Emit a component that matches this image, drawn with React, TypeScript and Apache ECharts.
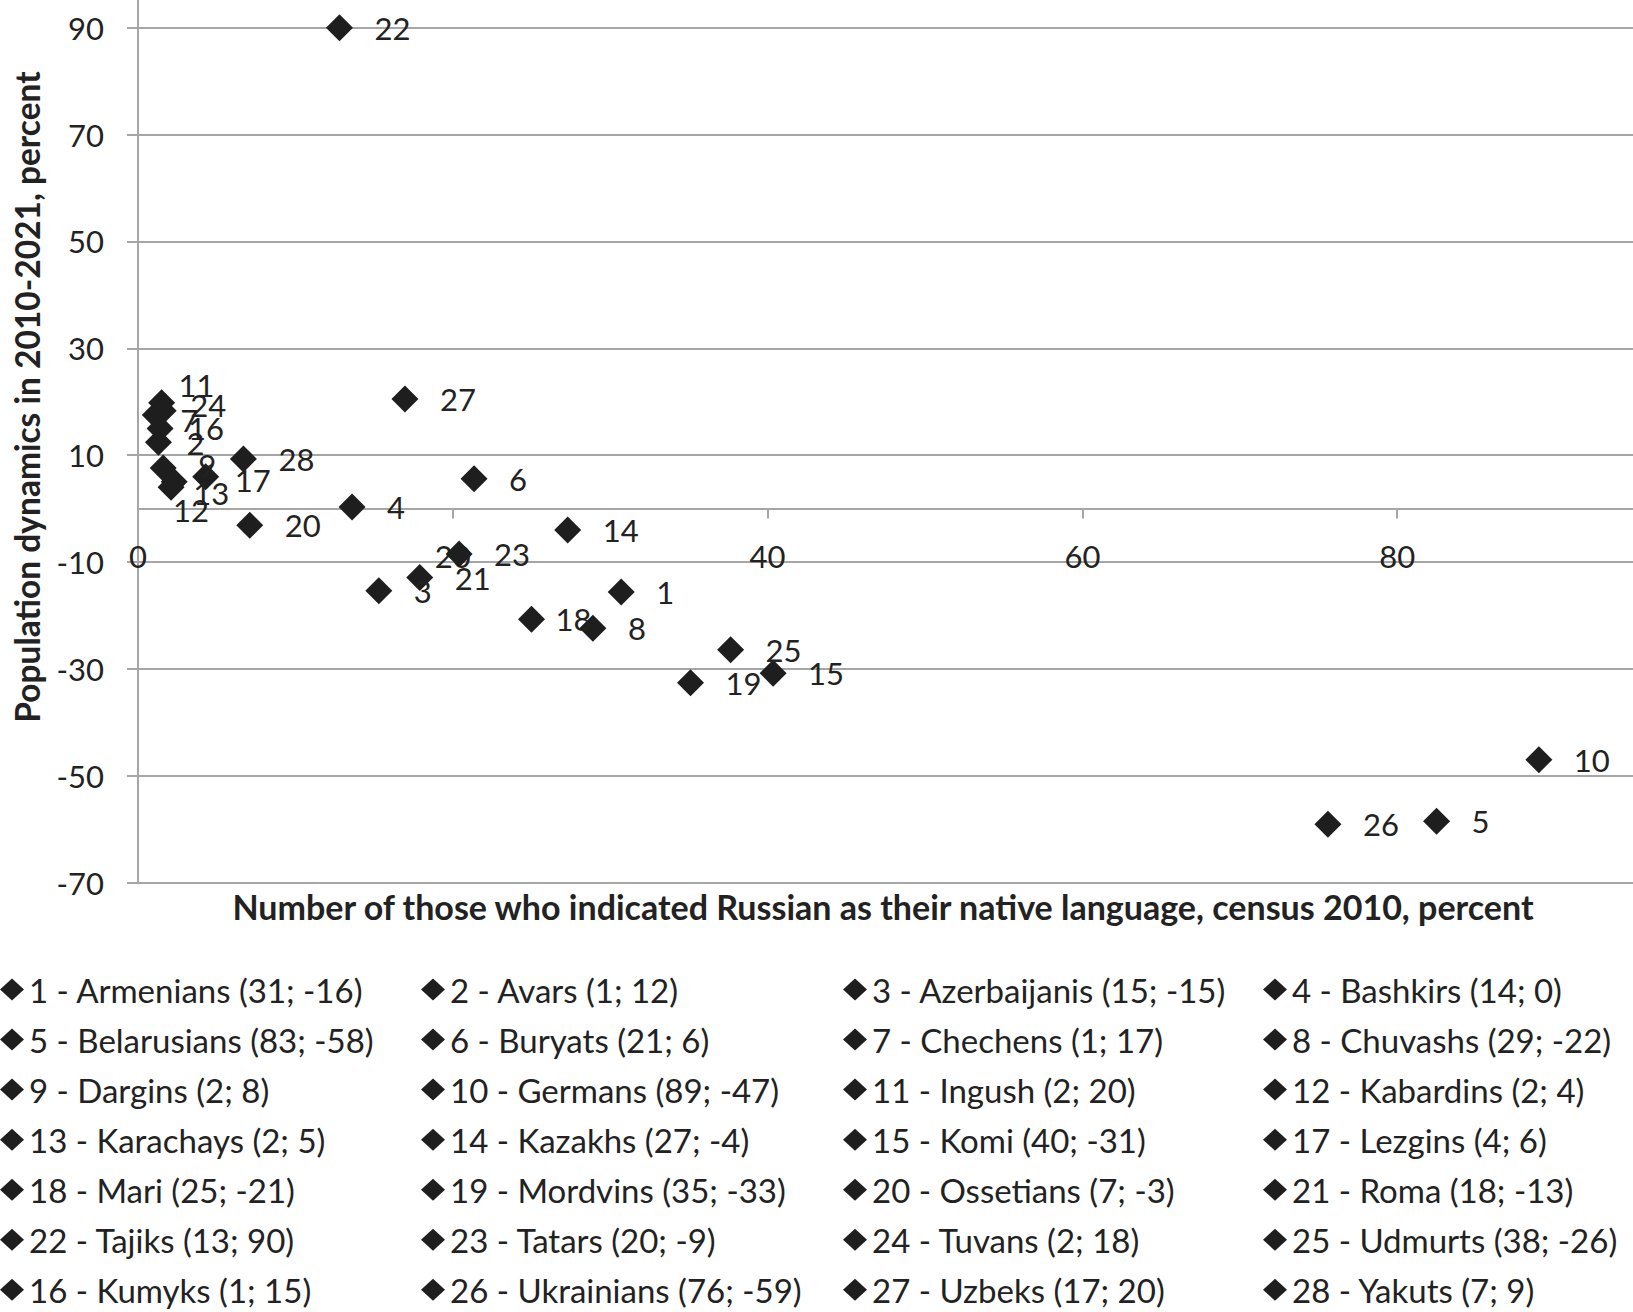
import React, { useEffect, useRef } from "react";
import * as echarts from "echarts";

// ---- data ----
const ids = [1, 2, 3, 4, 5, 6, 7, 8, 9, 10, 11, 12, 13, 14, 15, 16, 17, 18, 19, 20, 21, 22, 23, 24, 25, 26, 27, 28];
const groups = [
  "Armenians", "Avars", "Azerbaijanis", "Bashkirs", "Belarusians", "Buryats", "Chechens",
  "Chuvashs", "Dargins", "Germans", "Ingush", "Kabardins", "Karachays", "Kazakhs", "Komi",
  "Kumyks", "Lezgins", "Mari", "Mordvins", "Ossetians", "Roma", "Tajiks", "Tatars", "Tuvans",
  "Udmurts", "Ukrainians", "Uzbeks", "Yakuts",
];
// plotted positions (x: share with Russian as native language 2010, y: population dynamics 2010-2021)
const xValues = [30.7, 1.3, 15.3, 13.6, 82.5, 21.35, 1.1, 28.9, 1.6, 89.0, 1.5, 2.1, 2.3, 27.3, 40.35, 1.4, 4.3, 25.0, 35.1, 7.1, 17.9, 12.8, 20.4, 1.6, 37.65, 75.6, 16.96, 6.7];
const yValues = [-15.6, 12.4, -15.4, 0.3, -58.5, 5.6, 17.5, -22.4, 7.6, -47.0, 19.8, 4.0, 5.0, -4.0, -30.8, 15.0, 5.95, -20.7, -32.6, -3.1, -12.9, 90.0, -8.5, 18.3, -26.4, -59.1, 20.5, 9.3];
// values as printed in the legend
const legendX = [31, 1, 15, 14, 83, 21, 1, 29, 2, 89, 2, 2, 2, 27, 40, 1, 4, 25, 35, 7, 18, 13, 20, 2, 38, 76, 17, 7];
const legendY = [-16, 12, -15, 0, -58, 6, 17, -22, 8, -47, 20, 4, 5, -4, -31, 15, 6, -21, -33, -3, -13, 90, -9, 18, -26, -59, 20, 9];
// legend layout: ids per column, in row order
const legendColumns = [
  [1, 5, 9, 13, 18, 22, 16],
  [2, 6, 10, 14, 19, 23, 26],
  [3, 7, 11, 15, 20, 24, 27],
  [4, 8, 12, 17, 21, 25, 28],
];
const xAxisTitle = "Number of those who indicated Russian as their native language, census 2010, percent";
const yAxisTitle = "Population dynamics in 2010-2021, percent";

// ---- styling ----
const FONT = "Lato, 'Liberation Sans', sans-serif";
const TEXT = "#222222";
const GRID = "#a6a6a6";
const MARK = "#1e1e1e";
const labelOffsets: Record<number, [number, number]> = {
  11: [-18, -18],
  24: [-8, -6],
  7: [-10, 5],
  16: [-7, 0],
  2: [-7, 1],
  9: [0, -3],
  13: [-16, 11],
  12: [-33, 23],
  17: [-6, 3],
  18: [-11, 0],
};
const legendLefts = [0, 421, 843, 1263];

const GRID_LEFT = 138;
const GRID_TOP = -20.4;
const GRID_W = 1574;
const GRID_H = 903;
const Y_MIN = -70;
const Y_MAX = 99;
// x axis drawn at y = 0: shift it up from the grid bottom
const X_AXIS_OFFSET = -(GRID_H * (0 - Y_MIN)) / (Y_MAX - Y_MIN);

const seriesName = (i: number) => `${ids[i]} - ${groups[i]} (${legendX[i]}; ${legendY[i]})`;

export default function App() {
  const ref = useRef<HTMLDivElement>(null);
  useEffect(() => {
    if (!ref.current) return;
    const chart = echarts.init(ref.current, undefined, { renderer: "svg" });
    const series = ids.map((id, i) => ({
      type: "scatter",
      name: seriesName(i),
      symbol: "diamond",
      symbolSize: 27,
      itemStyle: { color: MARK, opacity: 1 },
      data: [[xValues[i], yValues[i]]],
      label: {
        show: true,
        position: "right",
        distance: 21.5,
        offset: labelOffsets[id] || [0, 0],
        formatter: String(id),
        color: TEXT,
        fontSize: 31,
        fontFamily: FONT,
      },
      emphasis: { disabled: true },
    }));
    const legends = legendColumns.map((col, c) => ({
      orient: "vertical",
      left: legendLefts[c],
      top: 973,
      padding: 0,
      itemGap: 17.05,
      itemWidth: 24,
      itemHeight: 22,
      icon: "diamond",
      selectedMode: false,
      itemStyle: { opacity: 1 },
      data: col.map((id) => seriesName(ids.indexOf(id))),
      textStyle: { color: TEXT, fontSize: 33, fontFamily: FONT },
    }));
    chart.setOption({
      animation: false,
      backgroundColor: "#ffffff",
      grid: { left: GRID_LEFT, top: GRID_TOP, width: GRID_W, height: GRID_H, outerBoundsMode: "none" },
      xAxis: {
        type: "value",
        position: "bottom",
        offset: X_AXIS_OFFSET,
        min: 0,
        max: 100,
        interval: 20,
        axisLine: { show: true, onZero: false, lineStyle: { color: GRID, width: 2 } },
        axisTick: { show: true, length: 10, lineStyle: { color: GRID, width: 2 } },
        splitLine: { show: false },
        axisLabel: {
          margin: 32,
          color: TEXT,
          fontSize: 31,
          fontFamily: FONT,
          showMaxLabel: false,
        },
      },
      yAxis: {
        type: "value",
        min: Y_MIN,
        max: Y_MAX,
        interval: 20,
        axisLine: { show: true, onZero: false, lineStyle: { color: GRID, width: 2 } },
        axisTick: { show: true, length: 11, lineStyle: { color: GRID, width: 2 } },
        splitLine: { show: true, showMaxLine: false, lineStyle: { color: GRID, width: 2 } },
        axisLabel: {
          margin: 34,
          color: TEXT,
          fontSize: 31,
          fontFamily: FONT,
          showMaxLabel: false,
        },
      },
      legend: legends,
      graphic: [
        {
          type: "text",
          x: 883,
          y: 906,
          style: {
            text: xAxisTitle,
            fill: TEXT,
            font: `bold 34px ${FONT}`,
            textAlign: "center",
            textVerticalAlign: "middle",
          },
        },
        {
          type: "text",
          x: 27,
          y: 397,
          rotation: Math.PI / 2,
          style: {
            text: yAxisTitle,
            fill: TEXT,
            font: `bold 33.5px ${FONT}`,
            textAlign: "center",
            textVerticalAlign: "middle",
          },
        },
      ],
      series,
    });
    return () => chart.dispose();
  }, []);
  return (
    <div
      ref={ref}
      style={{ position: "absolute", left: 0, top: 0, width: 1633, height: 1312 }}
    />
  );
}
